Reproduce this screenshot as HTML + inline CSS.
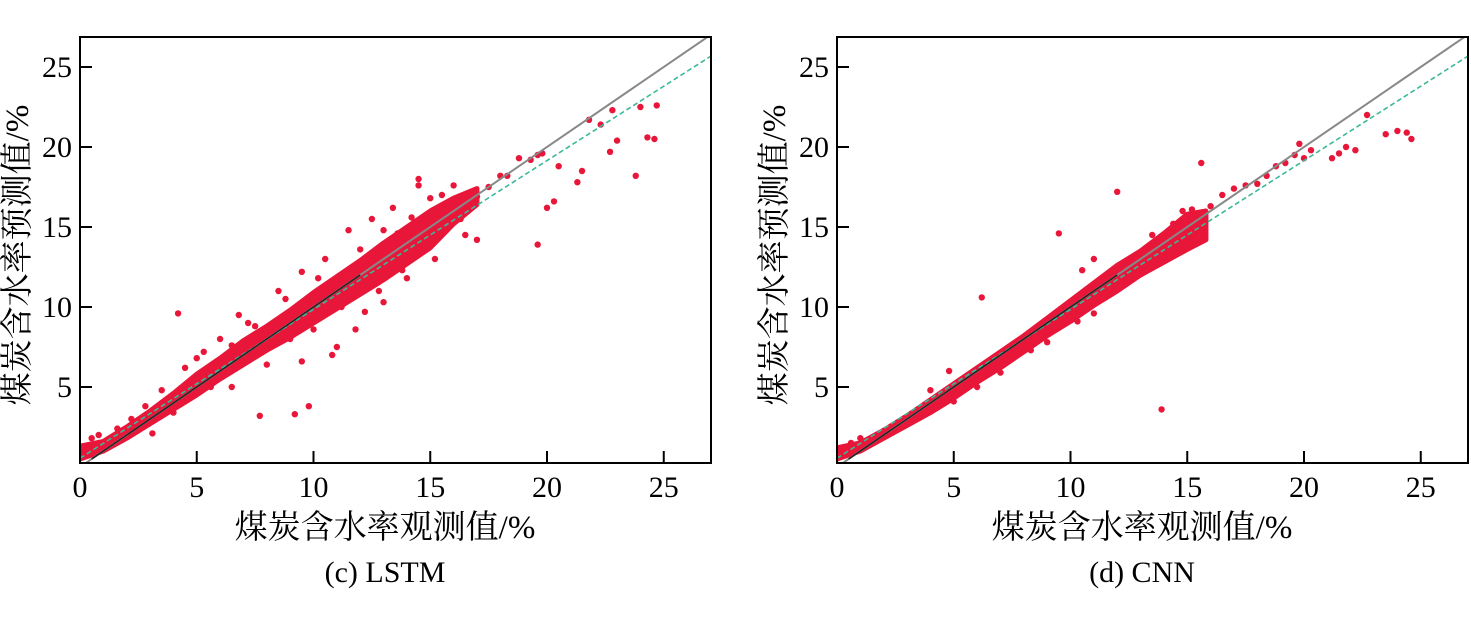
<!DOCTYPE html>
<html><head><meta charset="utf-8"><style>
body{margin:0;background:#fff;width:1471px;height:618px;overflow:hidden}
svg text{font-family:"Liberation Serif","Noto Serif CJK SC",serif;fill:#000}
</style></head><body>
<svg id="s" width="1471" height="618"></svg>
<script>
const xTicks=[0,5,10,15,20,25];
const yTicks=[5,10,15,20,25];
const lstmBandX=[0,1,2,3,4,5,6,7,8,9,10,11,12,13,14,15,16,17];
const lstmBandLo=[0.5,1.0,1.8,2.7,3.6,4.5,5.5,6.4,7.3,8.1,9.0,9.9,10.8,11.7,12.7,13.7,15.2,16.4];
const lstmBandHi=[1.3,1.6,2.5,3.5,4.6,5.8,6.8,7.9,8.8,9.8,10.9,11.9,12.9,14.0,15.0,16.0,16.8,17.4];
const lstmPts=[[4.2,9.6],[7.7,3.2],[9.2,3.3],[9.8,3.8],[3.1,2.1],[2.2,3.0],[5.3,7.2],[6.8,9.5],[8.5,11.0],[9.5,12.2],[10.5,13.0],[11.5,14.8],[12.5,15.5],[13.4,16.2],[14.5,17.6],[15.5,17.0],[16.0,17.6],[14.5,18.0],[12.2,9.7],[11.8,8.6],[13.0,10.3],[11.0,7.5],[10.8,7.0],[9.5,6.6],[17.0,14.2],[17.0,16.9],[17.5,17.5],[18.0,18.2],[18.3,18.2],[18.8,19.3],[19.3,19.2],[19.6,19.5],[19.8,19.6],[19.6,13.9],[20.3,16.6],[20.0,16.2],[20.5,18.8],[21.3,17.8],[21.5,18.5],[21.8,21.7],[22.3,21.4],[22.8,22.3],[22.7,19.7],[23.0,20.4],[23.8,18.2],[24.0,22.5],[24.3,20.6],[24.6,20.5],[24.7,22.6],[16.5,14.5],[15.2,13.0],[14.0,11.8],[13.8,12.3],[12.8,11.0],[0.1,0.9],[0.2,1.3],[0.5,1.8],[0.8,2.0],[16.3,15.5],[15.6,15.6],[13.6,14.6],[7.2,9.0],[6.0,8.0],[5.0,6.8],[3.5,4.8],[4.5,6.2],[6.5,5.0],[8.0,6.4],[9.0,8.0],[10.0,8.6],[11.2,10.0],[12.0,13.6],[13.0,14.8],[14.2,15.6],[15.0,16.8],[10.2,11.8],[8.8,10.5],[7.5,8.8],[12.8,13.0],[14.8,14.0],[11.6,11.0],[9.7,9.2],[6.5,7.6],[5.6,5.0],[4.0,3.4],[2.8,3.8],[1.6,2.4]];
const cnnBandX=[0,1,2,3,4,5,6,7,8,9,10,11,12,13,14,15,15.8];
const cnnBandLo=[0.5,1.0,1.8,2.6,3.4,4.3,5.3,6.2,7.2,8.2,9.1,10.1,11.0,12.0,12.8,13.6,14.2];
const cnnBandHi=[1.2,1.5,2.3,3.2,4.2,5.2,6.2,7.2,8.2,9.3,10.4,11.5,12.6,13.5,14.6,15.8,16.0];
const cnnPts=[[6.2,10.6],[13.9,3.6],[9.5,14.6],[12.0,17.2],[10.5,12.3],[11.0,13.0],[12.5,12.9],[11.0,9.6],[10.3,9.1],[9.0,7.8],[8.3,7.3],[4.8,6.0],[4.0,4.8],[15.6,19.0],[16.0,16.3],[16.5,17.0],[17.0,17.4],[17.5,17.6],[18.0,17.7],[18.4,18.2],[18.8,18.8],[19.2,19.0],[19.6,19.5],[19.8,20.2],[20.0,19.3],[20.3,19.8],[21.2,19.3],[21.5,19.6],[21.8,20.0],[22.2,19.8],[22.7,22.0],[23.5,20.8],[24.0,21.0],[24.4,20.9],[24.6,20.5],[14.4,15.2],[14.8,16.0],[15.2,16.1],[13.5,14.5],[0.1,0.9],[0.3,1.2],[0.6,1.5],[1.0,1.8],[5.0,4.1],[6.0,5.0],[7.0,5.9],[12.3,12.0],[13.2,12.4],[11.5,10.6],[9.8,9.8],[8.7,8.6],[7.6,7.4],[14.5,13.8],[15.3,14.6]];
const panels=[{ox:80,name:"lstm",cap:"(c) LSTM",bx:lstmBandX,lo:lstmBandLo,hi:lstmBandHi,pts:lstmPts,black:[0.5,12]},
{ox:837,name:"cnn",cap:"(d) CNN",bx:cnnBandX,lo:cnnBandLo,hi:cnnBandHi,pts:cnnPts,black:[0.5,12]}];
const NS="http://www.w3.org/2000/svg",s=document.getElementById('s');
function mk(t,a,p){const e=document.createElementNS(NS,t);for(const k in a)e.setAttribute(k,a[k]);(p||s).appendChild(e);return e;}
panels.forEach(P=>{
 const X=v=>P.ox+v*23.35, Y=v=>467-v*16;
 const g=mk('g',{});
 
 
 const cp=mk('clipPath',{id:'c'+P.name},g);mk('rect',{x:P.ox,y:37,width:631,height:426},cp);
 const pg=mk('g',{'clip-path':'url(#c'+P.name+')'},g);
 let d='';P.bx.forEach((x,i)=>d+=(i?'L':'M')+X(x)+','+Y(P.hi[i]));
 for(let i=P.bx.length-1;i>=0;i--)d+='L'+X(P.bx[i])+','+Y(P.lo[i]);
 const band=mk('path',{d:d+'Z',fill:'#e8173a',stroke:'#e8173a','stroke-width':5,'stroke-linejoin':'round'},pg);
 
 
 P.pts.forEach(p=>{const c=mk('circle',{cx:X(p[0]),cy:Y(p[1]),r:3.2,fill:'#e8173a'},pg);
  
  });
 const l1=mk('line',{x1:X(0),y1:Y(0),x2:X(27.5),y2:Y(27.5),stroke:'#888','stroke-width':2},pg);
 
 
 const l2=mk('line',{x1:X(0),y1:Y(0.55),x2:X(27),y2:Y(0.55+0.93*27),stroke:'#3cb89a','stroke-width':1.6,'stroke-dasharray':'5,3'},pg);
 
 
 const l3=mk('line',{x1:X(P.black[0]),y1:Y(P.black[0]),x2:X(P.black[1]),y2:Y(P.black[1]),stroke:'#222','stroke-width':1.5},pg);
 
 
 const fr=mk('rect',{x:P.ox,y:37,width:631,height:426,fill:'none',stroke:'#000','stroke-width':2},g);
 
 
 xTicks.forEach(v=>{mk('line',{x1:X(v),y1:463,x2:X(v),y2:451,stroke:'#000','stroke-width':2},g);
  const t=mk('text',{x:X(v),y:497,'text-anchor':'middle','font-size':30},g);t.textContent=v;
  
  });
 yTicks.forEach(v=>{mk('line',{x1:P.ox,y1:Y(v),x2:P.ox+12,y2:Y(v),stroke:'#000','stroke-width':2},g);
  const t=mk('text',{x:P.ox-8,y:Y(v)+10,'text-anchor':'end','font-size':30},g);t.textContent=v;
  
  });
 const xt=mk('text',{x:P.ox+305,y:538,'text-anchor':'middle','font-size':33},g);xt.textContent='煤炭含水率观测值/%';
 
 
 const yt=mk('text',{x:0,y:0,'text-anchor':'middle','font-size':33,transform:'translate('+(P.ox-52)+',255) rotate(-90)'},g);yt.textContent='煤炭含水率预测值/%';
 
 
 const cap=mk('text',{x:P.ox+305,y:582,'text-anchor':'middle','font-size':30},g);cap.textContent=P.cap;
 
 
});
</script>
</body></html>
